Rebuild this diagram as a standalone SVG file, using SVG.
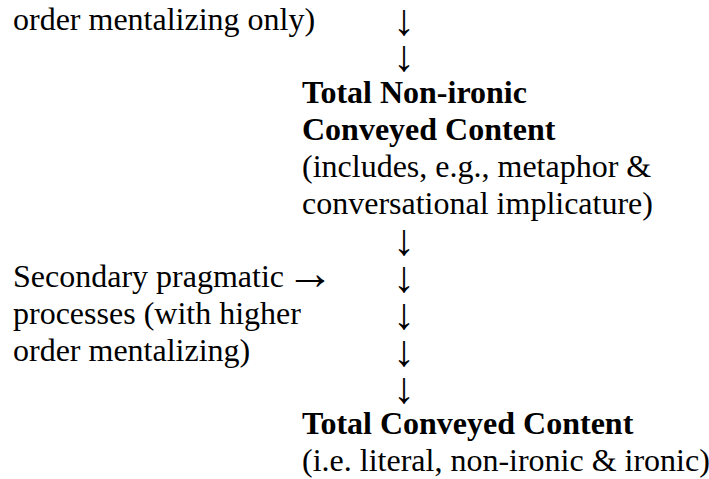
<svg xmlns="http://www.w3.org/2000/svg" width="709" height="479" viewBox="0 0 709 479">
<style>
text{font-family:"Liberation Serif","Times New Roman",serif;font-size:32px;fill:#000}
.b{font-weight:bold}
.arr{text-anchor:middle;font-size:44px}
.ra{font-size:48px}
</style>
<rect width="709" height="479" fill="#fff"/>
<g id="primary-note">
<text x="13" y="29.5">order mentalizing only)</text>
</g>
<g id="non-ironic-content">
<text x="302" y="103.1" class="b">Total Non-ironic</text>
<text x="302" y="139.9" class="b">Conveyed Content</text>
<text x="302" y="176.7">(includes, e.g., metaphor &amp;</text>
<text x="302" y="213.5">conversational implicature)</text>
</g>
<g id="secondary-processes">
<text x="13" y="287.1">Secondary pragmatic <tspan class="ra" dx="-6" dy="2">→</tspan></text>
<text x="13" y="323.9">processes (with higher</text>
<text x="13" y="360.7">order mentalizing)</text>
</g>
<g id="total-content">
<text x="302" y="434.3" class="b">Total Conveyed Content</text>
<text x="302" y="471.1">(i.e. literal, non-ironic &amp; ironic)</text>
</g>
<g id="connectors">
<text class="arr" x="404" y="34.5">↓</text>
<text class="arr" x="404" y="71.3">↓</text>
<text class="arr" x="404" y="255.3">↓</text>
<text class="arr" x="404" y="292.1">↓</text>
<text class="arr" x="404" y="328.9">↓</text>
<text class="arr" x="404" y="365.7">↓</text>
<text class="arr" x="404" y="402.5">↓</text>
</g>
</svg>
